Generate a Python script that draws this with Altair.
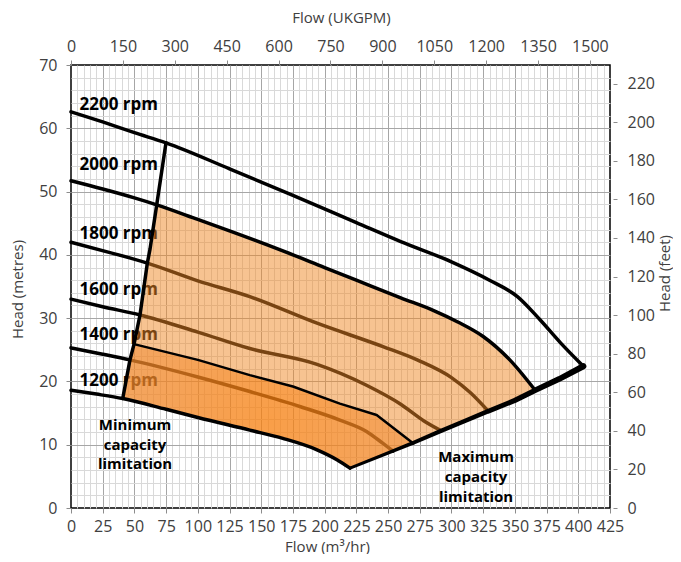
import altair as alt
import pandas as pd

# ---------------- axis ticks ----------------
flow_ticks = list(range(0, 426, 25))      # m3/hr labels
flow_grid = list(range(0, 426, 5))        # m3/hr grid
head_ticks = list(range(0, 71, 10))       # metres labels
head_grid = list(range(0, 71, 2))         # metres grid
ukgpm_ticks = list(range(0, 1501, 150))
feet_ticks = list(range(0, 221, 20))
FLOW_MAX = 425
HEAD_MAX = 70
UKGPM_PER_M3H = 3.666
FEET_PER_M = 3.2808

# ---------------- curves (flow m3/hr, head m) ----------------
c2200_flow = [0, 25, 50, 74.9, 125, 175, 225, 260, 300, 330, 352, 370, 386, 404]
c2200_head = [62.6, 61.0, 59.3, 57.7, 53.6, 49.4, 45.1, 42.1, 38.9, 36.0, 33.4, 29.7, 26.1, 22.4]

c2000_left_flow = [0, 25, 50, 67.6]
c2000_left_head = [51.7, 50.4, 49.0, 47.9]
c2000_flow = [67.6, 100, 125, 165, 200, 225, 260, 286, 305, 325, 346, 366]
c2000_head = [47.9, 45.6, 43.8, 40.8, 38.0, 36.0, 33.2, 31.2, 29.4, 27.1, 23.4, 18.6]

c1800_flow = [0, 30, 60.2, 100, 141, 194, 246, 273, 300, 315, 329]
c1800_head = [42.0, 40.4, 38.7, 35.9, 33.4, 29.2, 25.5, 23.4, 20.6, 18.2, 15.3]

c1600_flow = [0, 25, 54.4, 100, 141, 194, 233, 260, 278, 292]
c1600_head = [33.0, 31.8, 30.5, 27.8, 25.2, 22.7, 19.4, 16.4, 13.8, 12.2]

c1400_flow = [0, 25, 46.5, 100, 141, 181, 212, 233, 246, 254]
c1400_head = [25.3, 24.3, 23.4, 20.7, 18.4, 16.0, 13.9, 12.1, 10.2, 9.0]

band_flow = [49.7, 100, 141, 175, 212, 241, 270]
band_head = [25.9, 23.4, 21.0, 19.2, 16.5, 14.7, 10.2]

c1200_left_flow = [0, 20, 40.8]
c1200_left_head = [18.6, 18.0, 17.3]
c1200_flow = [40.8, 75, 100, 141, 167, 194, 210, 220]
c1200_head = [17.3, 15.6, 14.3, 12.3, 11.0, 9.2, 7.6, 6.3]

min_flow = [40.8, 46.5, 49.7, 54.4, 60.2, 62.3, 67.6, 74.9]
min_head = [17.3, 23.4, 25.9, 30.5, 38.7, 40.9, 47.9, 57.7]

max_flow = [220, 245, 270, 292, 310, 329, 350, 366, 385, 404]
max_head = [6.3, 8.3, 10.3, 12.2, 13.7, 15.3, 17.0, 18.6, 20.4, 22.4]

rpm_labels = ["2200 rpm", "2000 rpm", "1800 rpm", "1600 rpm", "1400 rpm", "1200 rpm"]
rpm_label_flow = [6.7, 6.7, 6.7, 6.7, 6.7, 6.7]
rpm_label_head = [63.7, 54.2, 43.3, 34.4, 27.3, 20.1]

min_text = ["Minimum", "capacity", "limitation"]
min_text_flow = [50.5, 50.5, 50.5]
min_text_head = [13.1, 10.0, 6.9]
max_text = ["Maximum", "capacity", "limitation"]
max_text_flow = [319.4, 319.4, 319.4]
max_text_head = [8.1, 4.9, 1.8]

FONT = "Open Sans"
LABEL_COLOR = "#404040"


def table(flow, head):
    return pd.DataFrame({"flow": flow, "head": head, "i": list(range(len(flow)))})


# polygons built from the curve arrays
light_flow = min_flow[:7] + c2000_flow[1:] + max_flow[6::-1] + c1200_flow[-2::-1]
light_head = min_head[:7] + c2000_head[1:] + max_head[6::-1] + c1200_head[-2::-1]
dark_flow = min_flow[:3] + band_flow[1:] + max_flow[1::-1] + c1200_flow[-2::-1]
dark_head = min_head[:3] + band_head[1:] + max_head[1::-1] + c1200_head[-2::-1]

major_x = "datum.value % 25 === 0"
major_y = "datum.value % 10 === 0"

x_axis = alt.Axis(
    orient="bottom", values=flow_grid, title="Flow (m³/hr)",
    grid=True,
    gridColor={"condition": {"test": major_x, "value": "#a6a6a6"}, "value": "#d9d9d9"},
    gridOpacity={"condition": {"test": "datum.value <= 0 || datum.value >= 425", "value": 0}, "value": 1},
    tickOpacity={"condition": {"test": major_x, "value": 1}, "value": 0},
    labelExpr="datum.value % 25 === 0 ? datum.label : ''",
    labelOverlap=False, labelFlush=False, labelBound=False,
    labelFont=FONT, labelFontSize=16, labelColor=LABEL_COLOR,
    tickColor="#8c8c8c", tickSize=5, labelPadding=5, domain=False,
    titleFont=FONT, titleFontSize=15, titleFontWeight="normal", titleColor=LABEL_COLOR,
    titleX=256, titleY=38, titleBaseline="middle", titleAlign="center",
)
y_axis = alt.Axis(
    orient="left", values=head_grid, title="Head (metres)",
    grid=True,
    gridColor={"condition": {"test": major_y, "value": "#a6a6a6"}, "value": "#d9d9d9"},
    gridOpacity={"condition": {"test": "datum.value <= 0 || datum.value >= 70", "value": 0}, "value": 1},
    tickOpacity={"condition": {"test": major_y, "value": 1}, "value": 0},
    labelExpr="datum.value % 10 === 0 ? datum.label : ''",
    labelOverlap=False, labelFlush=False, labelBound=False,
    labelFont=FONT, labelFontSize=16, labelColor=LABEL_COLOR,
    tickColor="#8c8c8c", tickSize=5, labelPadding=9, domain=False,
    titleFont=FONT, titleFontSize=15, titleFontWeight="normal", titleColor=LABEL_COLOR,
    titleX=-54, titleY=224, titleBaseline="middle", titleAlign="center", titleAngle=270,
)

X = alt.X("flow:Q", scale=alt.Scale(domain=[0, FLOW_MAX], nice=False, zero=True), axis=x_axis)
Y = alt.Y("head:Q", scale=alt.Scale(domain=[0, HEAD_MAX], nice=False, zero=True), axis=y_axis)


def line(flow, head, width, color="black", interp="monotone"):
    return alt.Chart(table(flow, head)).mark_line(
        color=color, strokeWidth=width, interpolate=interp, strokeCap="round", strokeJoin="round"
    ).encode(x=X, y=Y)


def polygon(flow, head, color, opacity):
    return alt.Chart(table(flow, head)).mark_line(
        filled=True, color=color, fillOpacity=opacity, interpolate="linear"
    ).encode(x=X, y=Y, order="i:Q")


def texts(labels, flow, head, size, align):
    df = pd.DataFrame({"flow": flow, "head": head, "label": labels})
    return alt.Chart(df).mark_text(
        font=FONT, fontSize=size, fontWeight="bold", color="black", align=align, baseline="middle"
    ).encode(x=X, y=Y, text="label:N")


dark_fill = alt.Gradient(
    gradient="radial",
    stops=[alt.GradientStop(color="#fb7a00", offset=0),
           alt.GradientStop(color="#f28424", offset=0.55),
           alt.GradientStop(color="#e98d40", offset=1)],
    x1=0.5, y1=0.55, x2=0.5, y2=0.55, r1=0, r2=0.7,
)

layers = [
    texts(rpm_labels, rpm_label_flow, rpm_label_head, 17, "left"),
    line(c1800_flow, c1800_head, 3.5),
    line(c1600_flow, c1600_head, 3.5),
    line(c1400_flow, c1400_head, 3.5),
    polygon(light_flow, light_head, "#ef8723", 0.5),
    polygon(dark_flow, dark_head, dark_fill, 0.5),
    line(c2200_flow, c2200_head, 3.5),
    line(c2000_left_flow + c2000_flow[1:], c2000_left_head + c2000_head[1:], 3.5),
    line(c1200_left_flow + c1200_flow[1:], c1200_left_head + c1200_head[1:], 3.5),
    line(band_flow, band_head, 2.5, interp="linear"),
    line(min_flow, min_head, 3.5, interp="linear"),
    alt.Chart(table(max_flow, max_head)).mark_trail(color="black").encode(
        x=X, y=Y, size=alt.Size("w:Q", scale=None, legend=None)
    ).transform_calculate(w="3 + 3 * (datum.flow - 220) / 184"),
    texts(min_text, min_text_flow, min_text_head, 15, "center"),
    texts(max_text, max_text_flow, max_text_head, 15, "center"),
]
main = alt.layer(*layers)

dummy = alt.Chart(pd.DataFrame({"ukgpm": [0], "feet": [0]})).mark_point(opacity=0).encode(
    x=alt.X("ukgpm:Q", scale=alt.Scale(domain=[0, FLOW_MAX * UKGPM_PER_M3H], nice=False),
            axis=alt.Axis(orient="top", values=ukgpm_ticks, title="Flow (UKGPM)", grid=False,
                          format="d",
                          labelFont=FONT, labelFontSize=16, labelColor=LABEL_COLOR,
                          labelFlush=False, labelOverlap=False,
                          tickColor="#8c8c8c", tickSize=5, labelPadding=6, domain=False,
                          titleFont=FONT, titleFontSize=15, titleFontWeight="normal",
                          titleColor=LABEL_COLOR, titleX=270, titleY=-48,
                          titleBaseline="middle", titleAlign="center")),
    y=alt.Y("feet:Q", scale=alt.Scale(domain=[0, HEAD_MAX * FEET_PER_M], nice=False),
            axis=alt.Axis(orient="right", values=feet_ticks, title="Head (feet)", grid=False,
                          format="d",
                          labelFont=FONT, labelFontSize=16, labelColor=LABEL_COLOR,
                          labelFlush=False, labelOverlap=False, offset=3,
                          tickColor="#8c8c8c", tickSize=4, labelPadding=10, domain=False,
                          titleFont=FONT, titleFontSize=15, titleFontWeight="normal",
                          titleColor=LABEL_COLOR, titleX=51, titleY=208, titleAngle=270,
                          titleBaseline="middle", titleAlign="center")),
)

chart = alt.layer(main, dummy).resolve_scale(x="independent", y="independent").properties(
    width=539, height=443,
    autosize=alt.AutoSizeParams(type="none"),
    padding={"left": 63, "top": 57, "right": 63, "bottom": 46},
).configure_view(stroke="black", strokeWidth=1.5)

chart.save("out.html", embed_options={"renderer": "svg", "actions": False})
